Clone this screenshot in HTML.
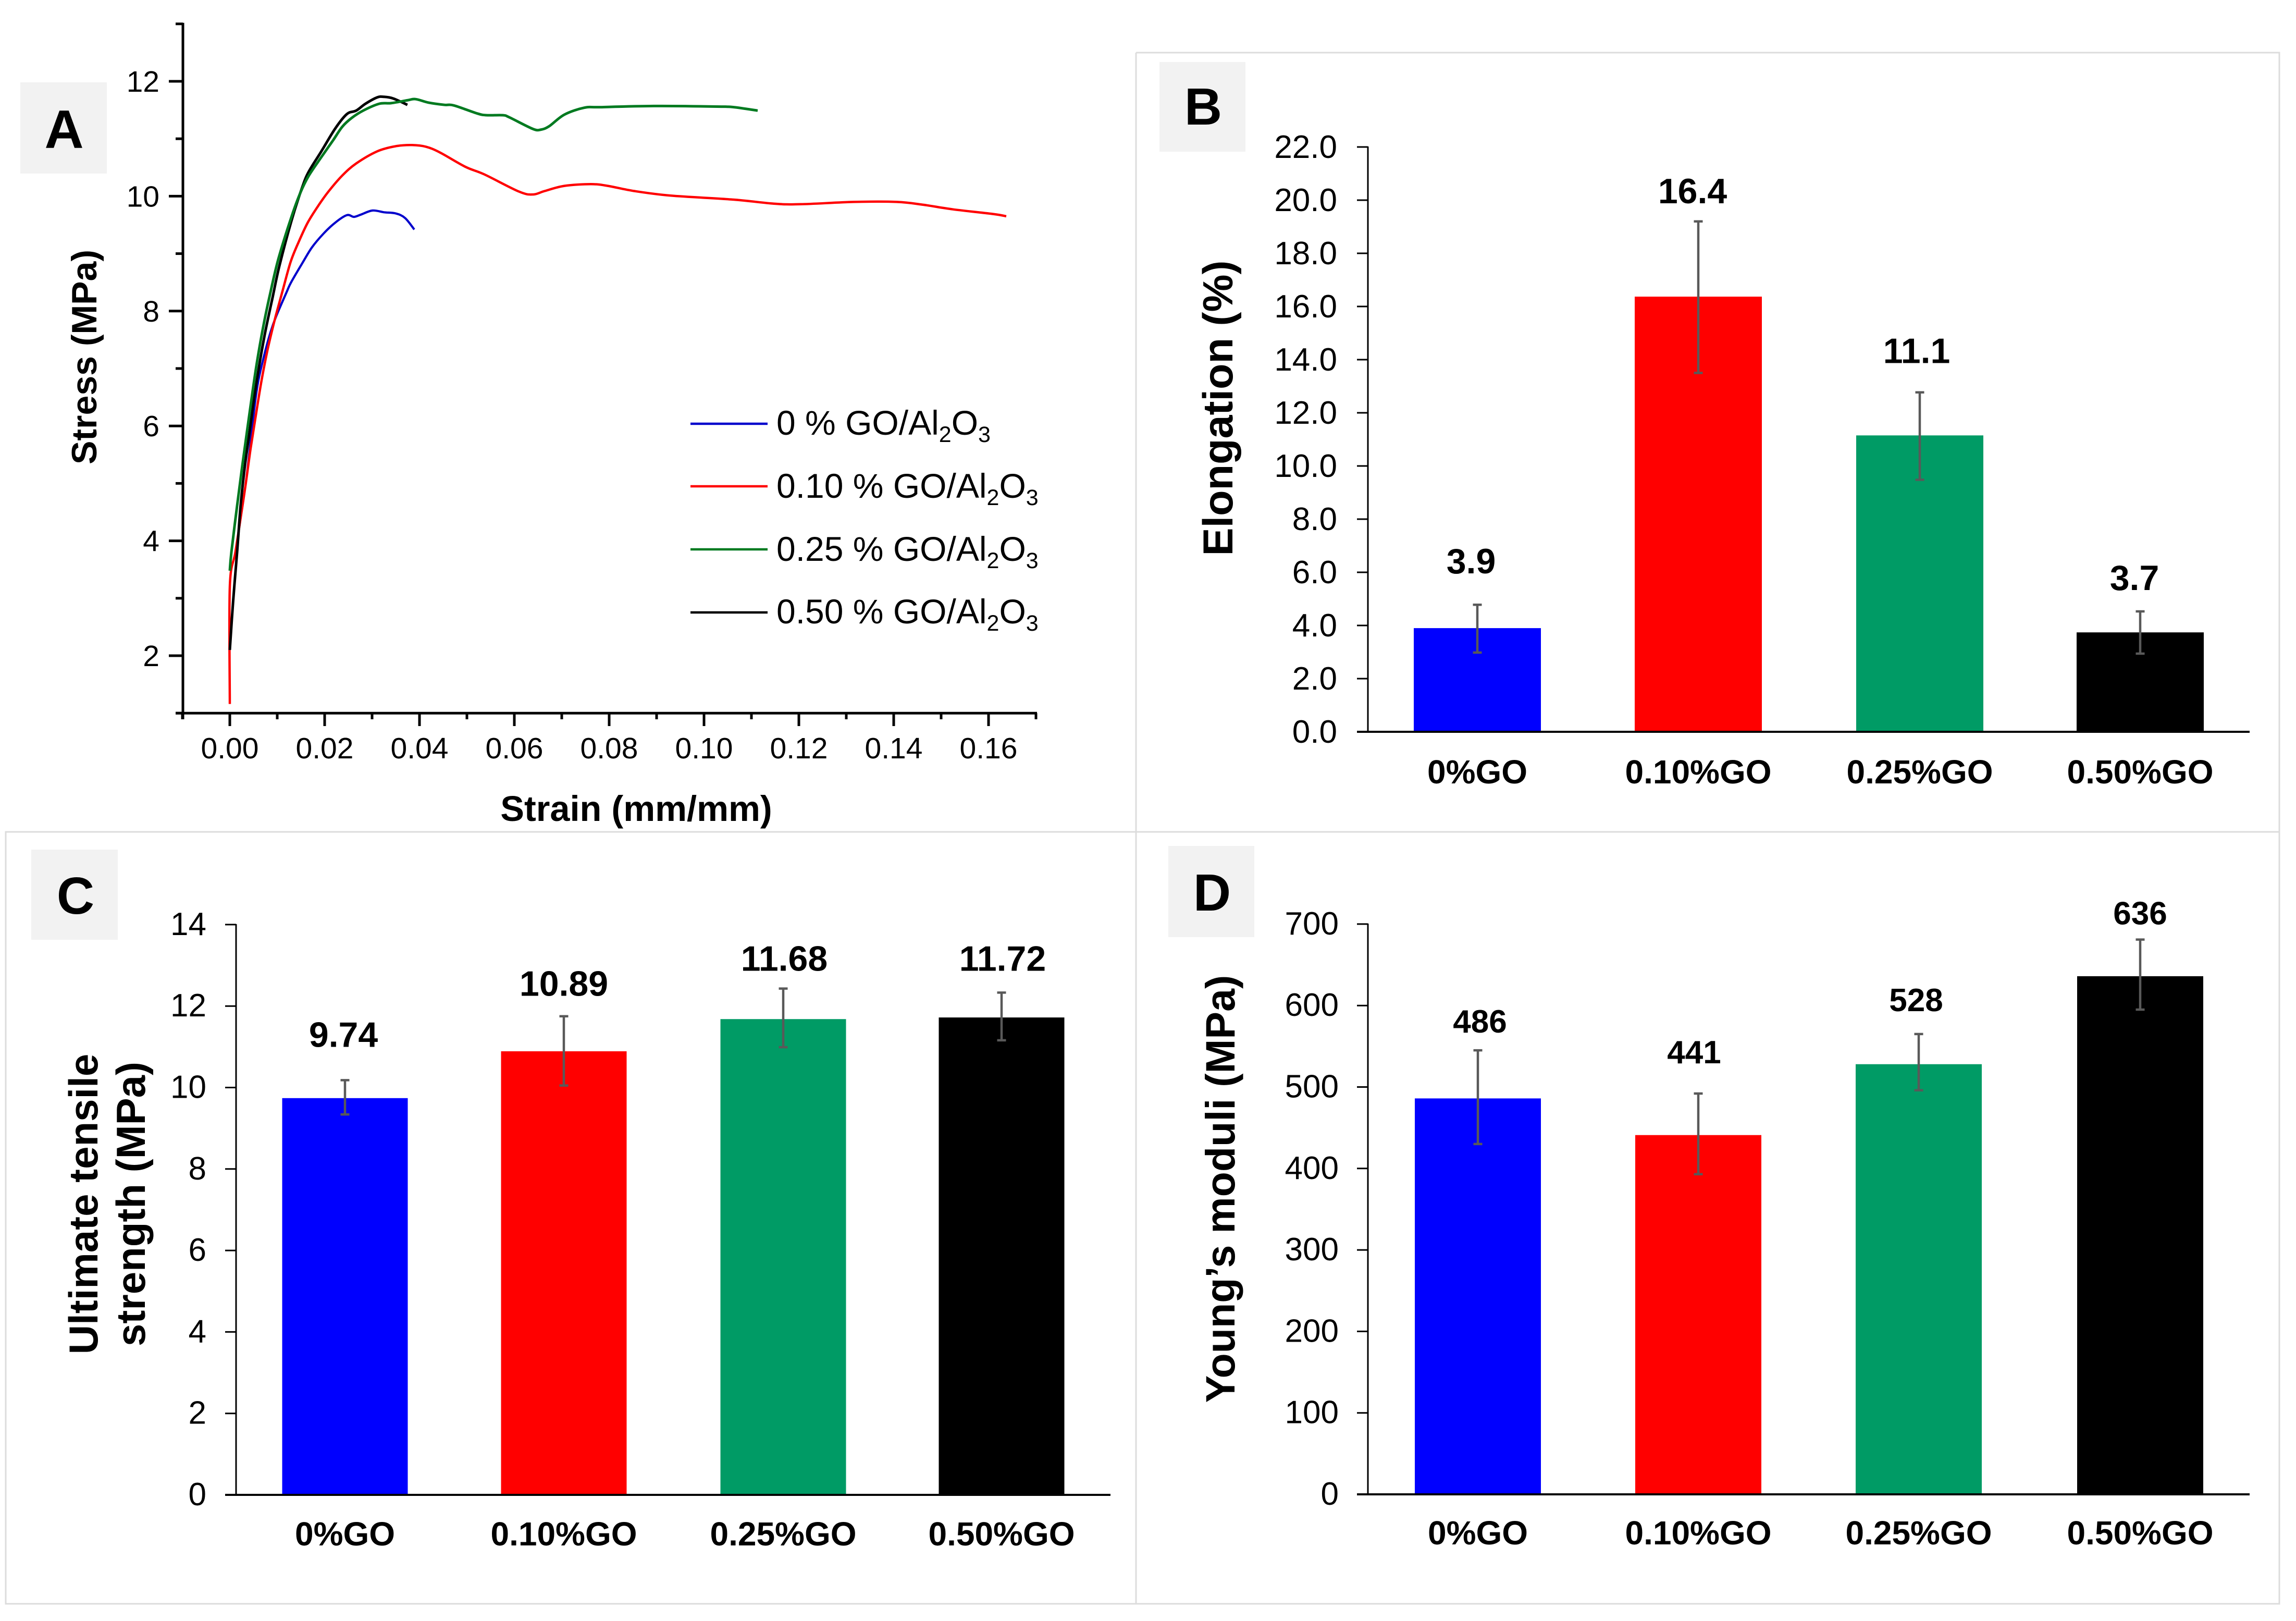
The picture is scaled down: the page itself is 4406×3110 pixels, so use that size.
<!DOCTYPE html>
<html lang="en">
<head>
<meta charset="utf-8">
<title>GO/Al2O3 mechanical properties</title>
<style>
html,body{margin:0;padding:0;background:#fff;}
svg{display:block;}
text{font-family:"Liberation Sans",sans-serif;fill:#000;}
.b{font-weight:bold;}
</style>
</head>
<body>
<svg id="fig" xmlns="http://www.w3.org/2000/svg" width="4406" height="3110" viewBox="0 0 4406 3110">
  <rect x="0" y="0" width="4406" height="3110" fill="#fff"/>
  <g stroke="#dcdcdc" stroke-width="3" fill="none">
    <path d="M2180 101H4374V1596"/>
    <path d="M2180 101V3077"/>
    <path d="M11 1606V1596H4374"/>
    <path d="M11 1596V3077H4374V1596"/>
  </g>

  <g>
    <rect x="39" y="158" width="166" height="175" fill="#f2f2f2"/>
    <text class="b" x="123" y="284" font-size="104" text-anchor="middle">A</text>
  </g>
  <g>
    <rect x="2225" y="119" width="165" height="172" fill="#f2f2f2"/>
    <text class="b" x="2309" y="239" font-size="100" text-anchor="middle">B</text>
  </g>
  <g>
    <rect x="60" y="1630" width="166" height="173" fill="#f2f2f2"/>
    <text class="b" x="145" y="1753" font-size="100" text-anchor="middle">C</text>
  </g>
  <g>
    <rect x="2242" y="1623" width="165" height="175" fill="#f2f2f2"/>
    <text class="b" x="2326" y="1747" font-size="100" text-anchor="middle">D</text>
  </g>

  <g id="panelA">
    <text class="b" font-size="68" text-anchor="middle" transform="translate(185 685) rotate(-90)">Stress (MPa)</text>
    <text class="b" font-size="68.5" text-anchor="middle" x="1221" y="1575">Strain (mm/mm)</text>
    <g font-size="66">
      <g>
        <line x1="1325" x2="1473" y1="813" y2="813" stroke="#0000cc" stroke-width="4.5"/>
        <text x="1490" y="834">0 % GO/Al<tspan dy="14" font-size="43">2</tspan><tspan dy="-14">O</tspan><tspan dy="14" font-size="43">3</tspan></text>
      </g>
      <g>
        <line x1="1325" x2="1473" y1="933" y2="933" stroke="#ff0000" stroke-width="4.5"/>
        <text x="1490" y="955">0.10 % GO/Al<tspan dy="14" font-size="43">2</tspan><tspan dy="-14">O</tspan><tspan dy="14" font-size="43">3</tspan></text>
      </g>
      <g>
        <line x1="1325" x2="1473" y1="1054" y2="1054" stroke="#007a20" stroke-width="4.5"/>
        <text x="1490" y="1076">0.25 % GO/Al<tspan dy="14" font-size="43">2</tspan><tspan dy="-14">O</tspan><tspan dy="14" font-size="43">3</tspan></text>
      </g>
      <g>
        <line x1="1325" x2="1473" y1="1175" y2="1175" stroke="#000000" stroke-width="4.5"/>
        <text x="1490" y="1196">0.50 % GO/Al<tspan dy="14" font-size="43">2</tspan><tspan dy="-14">O</tspan><tspan dy="14" font-size="43">3</tspan></text>
      </g>
    </g>
  </g>

  <g id="panelB">
    <text class="b" font-size="81" text-anchor="middle" transform="translate(2365 783) rotate(-90)">Elongation (%)</text>
  </g>
  <g id="panelC">
    <text class="b" font-size="78" text-anchor="middle" transform="translate(187 2310) rotate(-90)">Ultimate tensile</text>
    <text class="b" font-size="78" text-anchor="middle" transform="translate(278 2310) rotate(-90)">strength (MPa)</text>
  </g>
  <g id="panelD">
    <text class="b" font-size="79" text-anchor="middle" transform="translate(2369 2281) rotate(-90)">Young’s moduli (MPa)</text>
  </g>
</svg>
<script>
/* ---- panel A data ---- */
const strainMajorTicks = [0, 0.02, 0.04, 0.06, 0.08, 0.10, 0.12, 0.14, 0.16];
const strainMajorLabels = ["0.00","0.02","0.04","0.06","0.08","0.10","0.12","0.14","0.16"];
const strainMinorTicks = [-0.01, 0.01, 0.03, 0.05, 0.07, 0.09, 0.11, 0.13, 0.15, 0.17];
const stressMajorTicks = [2, 4, 6, 8, 10, 12];
const stressMajorLabels = ["2","4","6","8","10","12"];
const stressMinorTicks = [1, 3, 5, 7, 9, 11, 13];

const strain0 = [0.0012,0.0022,0.00352,0.00502,0.00593,0.00722,0.0085,0.00978,0.01198,0.01292,0.01541,0.01733,0.01978,0.02224,0.02469,0.02616,0.02764,0.03009,0.03254,0.03499,0.03696,0.0389];
const stress0 = [3.8,4.35,5.1,6.2,6.75,7.22,7.61,7.91,8.33,8.5,8.85,9.11,9.35,9.54,9.67,9.64,9.68,9.75,9.72,9.70,9.62,9.42];

const strain10 = [0,0,0.00118,0.00245,0.00337,0.00429,0.00538,0.00667,0.00795,0.00942,0.01106,0.0128,0.0145,0.0165,0.01879,0.02099,0.02372,0.02665,0.03107,0.03499,0.03843,0.04137,0.04433,0.04971,0.05366,0.06099,0.06394,0.0664,0.07055,0.07615,0.0797,0.08527,0.09297,0.10626,0.11473,0.12033,0.13154,0.14066,0.14626,0.15253,0.16099,0.16374];
const stress10 = [1.16,3.2,3.8,4.49,5.0,5.55,6.13,6.78,7.32,7.83,8.33,8.85,9.2,9.55,9.85,10.1,10.36,10.57,10.78,10.87,10.89,10.86,10.76,10.51,10.38,10.08,10.03,10.09,10.18,10.21,10.18,10.09,10.01,9.94,9.87,9.86,9.90,9.90,9.85,9.77,9.69,9.65];

const strain25 = [0,0.00033,0.00154,0.00264,0.00374,0.00484,0.00575,0.00703,0.0085,0.01022,0.01292,0.01488,0.0166,0.0193,0.02176,0.02372,0.02567,0.02813,0.03154,0.03401,0.03745,0.03917,0.04187,0.04527,0.04725,0.05217,0.05412,0.05758,0.05901,0.06394,0.06566,0.06737,0.07055,0.07473,0.07824,0.08945,0.10275,0.10626,0.11132];
const stress25 = [3.48,3.8,4.61,5.31,5.97,6.62,7.12,7.72,8.3,8.9,9.62,10.06,10.35,10.68,10.97,11.21,11.36,11.49,11.61,11.62,11.67,11.69,11.63,11.59,11.58,11.44,11.41,11.41,11.37,11.17,11.16,11.22,11.42,11.54,11.55,11.57,11.56,11.55,11.49];

const strain50 = [0,0.0007,0.00154,0.00227,0.00319,0.00429,0.0052,0.0063,0.00751,0.00905,0.01044,0.01292,0.01512,0.0166,0.0193,0.02224,0.02469,0.02665,0.02861,0.03107,0.03254,0.03451,0.03745];
const stress50 = [2.1,2.95,3.8,4.61,5.31,5.97,6.52,7.1,7.65,8.25,8.78,9.55,10.12,10.42,10.78,11.18,11.43,11.49,11.61,11.72,11.73,11.70,11.59];

/* ---- bar panel data ---- */
const categories = ["0%GO","0.10%GO","0.25%GO","0.50%GO"];

const elongationValues = [3.9, 16.37, 11.15, 3.74];
const elongationErrLow = [2.98, 13.5, 9.48, 2.94];
const elongationErrHigh = [4.78, 19.2, 12.77, 4.53];
const elongationPrinted = ["3.9","16.4","11.1","3.7"];
const elongationTicks = [0,2,4,6,8,10,12,14,16,18,20,22];
const elongationTickLabels = ["0.0","2.0","4.0","6.0","8.0","10.0","12.0","14.0","16.0","18.0","20.0","22.0"];

const strengthValues = [9.74, 10.89, 11.68, 11.72];
const strengthErrLow = [9.34, 10.05, 10.99, 11.16];
const strengthErrHigh = [10.18, 11.75, 12.43, 12.33];
const strengthPrinted = ["9.74","10.89","11.68","11.72"];
const strengthTicks = [0,2,4,6,8,10,12,14];
const strengthTickLabels = ["0","2","4","6","8","10","12","14"];

const moduliValues = [486, 441, 528, 636];
const moduliErrLow = [430, 393, 496, 595];
const moduliErrHigh = [545, 492, 565, 681];
const moduliPrinted = ["486","441","528","636"];
const moduliTicks = [0,100,200,300,400,500,600,700];
const moduliTickLabels = ["0","100","200","300","400","500","600","700"];

/* ---- helpers ---- */
const NS = "http://www.w3.org/2000/svg";
function mk(parent, tag, attrs, txt){
  const el = document.createElementNS(NS, tag);
  for (const k in attrs) el.setAttribute(k, attrs[k]);
  if (txt !== undefined) el.textContent = txt;
  parent.appendChild(el);
  return el;
}

/* ---- panel A ---- */
(function(){
  const root = document.getElementById("panelA");
  const X = v => 441 + v * 9100;
  const Y = v => 1258 - (v - 2) * 110.2;
  const ink = "#000";

  const yAxis = mk(root, "line", {x1:351, x2:351, y1:Y(13)-2, y2:1380, stroke:ink, "stroke-width":5});
  
  
  const xAxis = mk(root, "line", {x1:337, x2:X(0.17)+2, y1:Y(1), y2:Y(1), stroke:ink, "stroke-width":5});
  
  

  stressMajorTicks.forEach((v, i) => {
    const t = mk(root, "line", {x1:324, x2:351, y1:Y(v), y2:Y(v), stroke:ink, "stroke-width":5});
    
    
    const l = mk(root, "text", {x:306, y:Y(v)+20, "font-size":57, "text-anchor":"end"}, stressMajorLabels[i]);
    
    
  });
  stressMinorTicks.forEach(v => {
    const t = mk(root, "line", {x1:337, x2:351, y1:Y(v), y2:Y(v), stroke:ink, "stroke-width":5});
    
    
  });
  strainMajorTicks.forEach((v, i) => {
    const t = mk(root, "line", {x1:X(v), x2:X(v), y1:Y(1), y2:1393, stroke:ink, "stroke-width":5});
    
    
    const l = mk(root, "text", {x:X(v), y:1455, "font-size":57, "text-anchor":"middle"}, strainMajorLabels[i]);
    
    
  });
  strainMinorTicks.forEach(v => {
    const t = mk(root, "line", {x1:X(v), x2:X(v), y1:Y(1), y2:1380, stroke:ink, "stroke-width":5});
    
    
  });

  function curve(xs, ys){
    const p = xs.map((x, i) => [X(x), Y(ys[i])]);
    let d = "M" + p[0][0].toFixed(1) + " " + p[0][1].toFixed(1);
    for (let i = 0; i < p.length - 1; i++){
      const a = p[Math.max(i-1, 0)], b = p[i], c = p[i+1], e = p[Math.min(i+2, p.length-1)];
      const c1x = b[0] + (c[0]-a[0])/6, c1y = b[1] + (c[1]-a[1])/6;
      const c2x = c[0] - (e[0]-b[0])/6, c2y = c[1] - (e[1]-b[1])/6;
      d += "C" + c1x.toFixed(1) + " " + c1y.toFixed(1) + " " + c2x.toFixed(1) + " " + c2y.toFixed(1) + " " + c[0].toFixed(1) + " " + c[1].toFixed(1);
    }
    return d;
  }

  const blue = mk(root, "path", {d:curve(strain0, stress0), fill:"none", stroke:"#0000cc", "stroke-width":4.2, "stroke-linejoin":"round"});
  
  
  const red = mk(root, "path", {d:curve(strain10, stress10), fill:"none", stroke:"#ff0000", "stroke-width":4.5, "stroke-linejoin":"round"});
  
  
  const black = mk(root, "path", {d:curve(strain50, stress50), fill:"none", stroke:"#000000", "stroke-width":5, "stroke-linejoin":"round"});
  
  
  const green = mk(root, "path", {d:curve(strain25, stress25), fill:"none", stroke:"#007a20", "stroke-width":5, "stroke-linejoin":"round"});
  
  
})();

/* ---- bar panels ---- */
const barColors = ["#0000ff", "#ff0000", "#009b65", "#000000"];

function drawBars(opts){
  const root = document.getElementById(opts.id);
  const Y = v => opts.baseY - v * opts.perUnit;
  const half = opts.barWidth / 2;

  opts.ticks.forEach((v, i) => {
    const t = mk(root, "line", {x1:opts.axisX-21, x2:opts.axisX, y1:Y(v), y2:Y(v), stroke:"#000", "stroke-width":3});
    
    
    const l = mk(root, "text", {x:opts.labelRight, y:Y(v)+opts.labelDrop, "font-size":62, "text-anchor":"end"}, opts.tickLabels[i]);
    
    
  });

  opts.values.forEach((v, i) => {
    const cx = opts.centers[i];
    const bar = mk(root, "rect", {x:cx-half, y:Y(v), width:opts.barWidth, height:opts.baseY-Y(v), fill:barColors[i]});
    
    
    const err = mk(root, "path", {
      d:"M"+(cx-8.5)+" "+Y(opts.errHigh[i])+"H"+(cx+8.5)+"M"+cx+" "+Y(opts.errHigh[i])+"V"+Y(opts.errLow[i])+"M"+(cx-8.5)+" "+Y(opts.errLow[i])+"H"+(cx+8.5),
      fill:"none", stroke:"#595959", "stroke-width":4.5
    });
    
    
    const val = mk(root, "text", {x:cx+opts.nudgeX[i], y:Y(opts.errHigh[i])+opts.nudgeY[i], "font-size":opts.valueSize, "text-anchor":"middle", "font-weight":"bold"}, opts.printed[i]);
    
    
    const cat = mk(root, "text", {x:cx, y:opts.catY, "font-size":64, "text-anchor":"middle", "font-weight":"bold"}, categories[i]);
    
    
  });

  const yAxis = mk(root, "line", {x1:opts.axisX, x2:opts.axisX, y1:Y(opts.ticks[opts.ticks.length-1])-1, y2:opts.baseY, stroke:"#000", "stroke-width":3});
  
  
  const xAxis = mk(root, "line", {x1:opts.axisX-21, x2:opts.axisEnd, y1:opts.baseY, y2:opts.baseY, stroke:"#000", "stroke-width":4});
  
  
}

drawBars({id:"panelB", values:elongationValues, errLow:elongationErrLow, errHigh:elongationErrHigh, printed:elongationPrinted,
  ticks:elongationTicks, tickLabels:elongationTickLabels, baseY:1404, perUnit:51, axisX:2625, axisEnd:4317, labelRight:2566, labelDrop:21,
  centers:[2835,3259,3684,4107], barWidth:244, catY:1503, valueSize:68, nudgeX:[-12,-11,-6,-11], nudgeY:[-60,-35,-56,-41]});
drawBars({id:"panelC", values:strengthValues, errLow:strengthErrLow, errHigh:strengthErrHigh, printed:strengthPrinted,
  ticks:strengthTicks, tickLabels:strengthTickLabels, baseY:2868, perUnit:78.15, axisX:453, axisEnd:2131, labelRight:396, labelDrop:20,
  centers:[662,1082,1503,1922], barWidth:241, catY:2965, valueSize:68, nudgeX:[-3,0,2,2], nudgeY:[-64,-39,-34,-42]});
drawBars({id:"panelD", values:moduliValues, errLow:moduliErrLow, errHigh:moduliErrHigh, printed:moduliPrinted,
  ticks:moduliTicks, tickLabels:moduliTickLabels, baseY:2867, perUnit:1.563, axisX:2625, axisEnd:4317, labelRight:2569, labelDrop:20,
  centers:[2836,3259,3682,4107], barWidth:242, catY:2963, valueSize:62, nudgeX:[4,-8,-5,0], nudgeY:[-34,-58,-44,-29]});
</script>
</body>
</html>
